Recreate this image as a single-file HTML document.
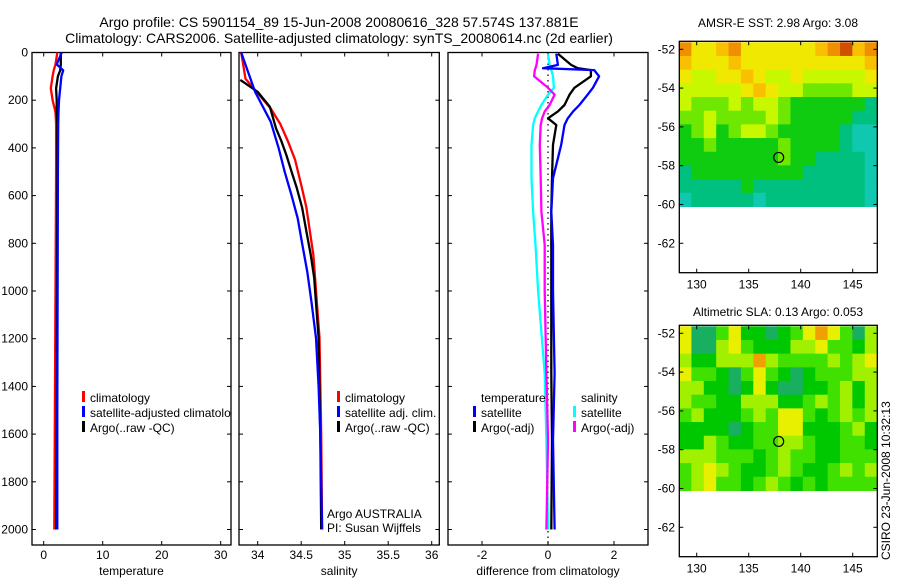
<!DOCTYPE html>
<html><head><meta charset="utf-8"><style>
body{margin:0;background:#fff;}
svg{display:block;font-family:"Liberation Sans",sans-serif;}
text{fill:#000;}
</style></head><body>
<svg id="fig" width="900" height="580" viewBox="0 0 900 580">
<g font-size="14" text-anchor="middle">
<text x="339" y="27">Argo profile: CS 5901154_89 15-Jun-2008 20080616_328 57.574S 137.881E</text>
<text x="339" y="43">Climatology: CARS2006. Satellite-adjusted climatology: synTS_20080614.nc (2d earlier)</text>
</g>
<text x="778" y="27" font-size="12" text-anchor="middle">AMSR-E SST: 2.98 Argo: 3.08</text>
<text x="778" y="316" font-size="12" text-anchor="middle">Altimetric SLA: 0.13 Argo: 0.053</text>
<text transform="translate(890,560) rotate(-90)" font-size="12">CSIRO 23-Jun-2008 10:32:13</text>
<defs>
<clipPath id="c1"><rect x="32" y="52" width="199" height="493"/></clipPath>
<clipPath id="c2"><rect x="239" y="52" width="200" height="493"/></clipPath>
<clipPath id="c3"><rect x="448" y="52" width="200" height="493"/></clipPath>
</defs>
<g id="layer"></g>
</svg>
<script>
// depth levels (m) shared by profile series
const tDepth = [0, 50, 75, 100, 150, 200, 250, 300, 500, 1000, 1500, 2000];
const tClim = [2.3, 2.0, 1.7, 1.5, 1.2, 1.5, 2.0, 2.1, 2.1, 2.0, 1.9, 1.8];
const tSat  = [3.05, 2.2, 3.3, 3.0, 2.8, 2.6, 2.5, 2.45, 2.4, 2.35, 2.3, 2.3];
const tArgo = [2.9, 2.9, 2.8, 2.4, 2.1, 2.2, 2.2, 2.3, 2.3, 2.25, 2.2, 2.1];
const sDepthC = [0, 110, 235, 300, 375, 450, 555, 650, 750, 850, 945, 1050, 1197, 1600, 2000];
const sClim   = [33.81, 33.86, 34.15, 34.26, 34.35, 34.43, 34.5, 34.56, 34.6, 34.64, 34.66, 34.68, 34.71, 34.73, 34.74];
const sDepthA = [115, 165, 228, 318, 370, 430, 500, 570, 650, 750, 850, 945, 1050, 1197, 1600, 2000];
const sArgo   = [33.8, 34.0, 34.14, 34.21, 34.27, 34.33, 34.39, 34.45, 34.51, 34.56, 34.61, 34.65, 34.67, 34.7, 34.72, 34.73];
const sDepthS = [0, 165, 290, 400, 500, 600, 695, 800, 920, 1050, 1197, 1400, 1600, 2000];
const sSat    = [33.81, 33.97, 34.15, 34.24, 34.31, 34.39, 34.46, 34.51, 34.57, 34.62, 34.67, 34.7, 34.72, 34.74];
const dDepth = [5, 52, 66, 74, 100, 148, 177, 220, 247, 276, 304, 387, 527, 667, 807, 1000, 1345, 1625, 2000];
const dTSat  = [0.25, 0.3, -0.15, 1.4, 1.55, 1.36, 1.2, 0.95, 0.76, 0.6, 0.5, 0.4, 0.15, 0.1, 0.15, 0.15, 0.2, 0.15, 0.2];
const dTArgo = [0.3, 0.7, 0.9, 1.3, 1.3, 0.8, 0.65, 0.5, 0.3, 0.0, 0.25, 0.15, 0.12, 0.1, 0.1, 0.1, 0.1, 0.12, 0.1];
const dSArgo = [-0.3, -0.35, -0.38, -0.4, -0.42, 0.0, 0.2, 0.05, -0.1, -0.18, -0.22, -0.25, -0.22, -0.2, -0.1, -0.1, -0.05, 0.0, -0.05];
const dSSat  = [0.0, 0.05, 0.08, 0.1, 0.15, 0.18, 0.0, -0.2, -0.3, -0.4, -0.45, -0.5, -0.5, -0.45, -0.38, -0.3, -0.1, -0.05, 0.0];
const depthTicks = [0,200,400,600,800,1000,1200,1400,1600,1800,2000];
const tTicks = [0,10,20,30];
const sTicks = [34,34.5,35,35.5,36];
const dTicks = [-2,0,2];
const latTicks = [-52,-54,-56,-58,-60,-62];
const lonTicks = [130,135,140,145];
const argoLon = 137.881, argoLat = -57.574;
const sstGrid = [
"7556755555567867","6555655555555556","5445565445444445","4444456544333344",
"4333434432222221","3343333432222211","2342344322222100","2232222232222100",
"2222222232211110","1222222222111110","1111121111111110","0111110111111110"];
const slaGrid = [
"5113522123565314","5114532224453324","4224446433334345","5332135321233344",
"4422125211223424","4332244422343424","3422234355323434","2222123355222342",
"2243223344322332","4443332343322333","3454322343223434","3453323432323333"];
const sstColors = ["#10c8b0","#00c080","#10cc10","#6ee800","#c8f800","#f0e800","#f8c000","#f09000","#d05000"];
const slaColors = ["#10a878","#18b060","#00c800","#40e000","#a0f000","#e8f000","#f0a000"];

const NS="http://www.w3.org/2000/svg";
const layer=document.getElementById('layer');
function el(t,a,p){const e=document.createElementNS(NS,t);for(const k in a)e.setAttribute(k,a[k]);(p||layer).appendChild(e);return e;}
const yD = d => 52.5 + d*0.2385;
const xT = v => 43.7 + v*5.9;
const xS = v => 257.7 + (v-34)*87;
const xDf = v => 548 + v*33;

function panel(x0,x1,name,xf,ticks,lab,xlabel,showY){
  const g=el('g',{});
  
  
  el('rect',{x:x0,y:52.5,width:x1-x0,height:492.5,fill:'none',stroke:'#000','stroke-width':1.3},g);
  depthTicks.forEach(d=>{const y=yD(d);
    el('line',{x1:x0,x2:x0+4,y1:y,y2:y,stroke:'#000'},g);
    el('line',{x1:x1-4,x2:x1,y1:y,y2:y,stroke:'#000'},g);
    if(showY){const t=el('text',{x:x0-4,y:y+4,'font-size':12,'text-anchor':'end'},g);t.textContent=d;
      
      }
  });
  ticks.forEach(v=>{const x=xf(v);
    el('line',{x1:x,x2:x,y1:545,y2:541,stroke:'#000'},g);
    el('line',{x1:x,x2:x,y1:52.5,y2:56.5,stroke:'#000'},g);
    const t=el('text',{x:x,y:559,'font-size':12,'text-anchor':'middle'},g);t.textContent=lab(v);
    
    
  });
  const xl=el('text',{x:(x0+x1)/2,y:575,'font-size':12,'text-anchor':'middle'},g);xl.textContent=xlabel;
  
  
  return g;
}
function line(g,clip,xs,ds,xf,col,name){
  const pts=xs.map((v,i)=>xf(v).toFixed(1)+','+yD(ds[i]).toFixed(1)).join(' ');
  const p=el('polyline',{points:pts,fill:'none',stroke:col,'stroke-width':2.3,'stroke-linejoin':'round','clip-path':'url(#'+clip+')'},g);
  
  
}
function legend(g,x,y,col,txt,clip){
  if(col){const m=el('rect',{x:x,y:y-11,width:3,height:11,fill:col},g);
    
    }
  const t=el('text',{x:x+8,y:y,'font-size':12},g);t.textContent=txt;
  if(clip)t.setAttribute('clip-path','url(#'+clip+')');
  
  
}
// panel 1
const g1=panel(32,231,'temperature-panel',xT,tTicks,v=>v,'temperature',true);
line(g1,'c1',tClim,tDepth,xT,'#f00','temp-climatology-line');
line(g1,'c1',tArgo,tDepth,xT,'#000','temp-argo-line');
line(g1,'c1',tSat,tDepth,xT,'#00f','temp-satellite-line');
legend(g1,82,402,'#f00','climatology');
legend(g1,82,417,'#00f','satellite-adjusted climatology','c1');
legend(g1,82,432,'#000','Argo(..raw -QC)');
// panel 2
const g2=panel(239,439.3,'salinity-panel',xS,sTicks,v=>v,'salinity',false);
line(g2,'c2',sClim,sDepthC,xS,'#f00','sal-climatology-line');
line(g2,'c2',sArgo,sDepthA,xS,'#000','sal-argo-line');
line(g2,'c2',sSat,sDepthS,xS,'#00f','sal-satellite-line');
legend(g2,337,402,'#f00','climatology');
legend(g2,337,417,'#00f','satellite adj. clim.');
legend(g2,337,432,'#000','Argo(..raw -QC)');
legend(g2,319,518,null,'Argo AUSTRALIA');
legend(g2,319,532,null,'PI: Susan Wijffels');
// panel 3
const g3=panel(448,648,'difference-panel',xDf,dTicks,v=>v,'difference from climatology',false);
const z=el('line',{x1:xDf(0),x2:xDf(0),y1:52.5,y2:545,stroke:'#000','stroke-dasharray':'1.5,4','stroke-width':1.2},g3);


line(g3,'c3',dSSat,dDepth,xDf,'#0ff','sal-diff-satellite-line');
line(g3,'c3',dSArgo,dDepth,xDf,'#f0f','sal-diff-argo-line');
line(g3,'c3',dTArgo,dDepth,xDf,'#000','temp-diff-argo-line');
line(g3,'c3',dTSat,dDepth,xDf,'#00f','temp-diff-satellite-line');
legend(g3,473,402,null,'temperature');
legend(g3,473,417,'#00f','satellite');
legend(g3,473,432,'#000','Argo(-adj)');
legend(g3,573,402,null,'salinity');
legend(g3,573,417,'#0ff','satellite');
legend(g3,573,432,'#f0f','Argo(-adj)');
// maps
const lonX = v => 696.7 + (v-130)*10.4;
function map(top,grid,colors,name){
  const g=el('g',{});
  
  
  const ly = v => top + 1 + (-51.64 - v)*19.4;
  const lonMin=128.3, lonMax=147.35, latMax=-51.64, latMin=-60.1;
  const rows=grid.length, cols=grid[0].length;
  const cw=(lonMax-lonMin)/cols, ch=(latMax-latMin)/rows;
  grid.forEach((r,i)=>{for(let j=0;j<cols;j++){
    const x=lonX(lonMin+j*cw), y=ly(latMax-i*ch);
    const c=el('rect',{x:x,y:y,width:cw*10.4+0.6,height:ch*19.4+0.6,fill:colors[+r[j]]},g);
    
    
  }});
  el('rect',{x:679.3,y:top,width:198,height:231.4,fill:'none',stroke:'#000','stroke-width':1.3},g);
  latTicks.forEach(v=>{const y=ly(v);
    el('line',{x1:679.3,x2:683.3,y1:y,y2:y,stroke:'#000'},g);
    el('line',{x1:873.3,x2:877.3,y1:y,y2:y,stroke:'#000'},g);
    const t=el('text',{x:675,y:y+4,'font-size':12,'text-anchor':'end'},g);t.textContent=v;
    
    
  });
  lonTicks.forEach(v=>{const x=lonX(v);
    el('line',{x1:x,x2:x,y1:top,y2:top+4,stroke:'#000'},g);
    el('line',{x1:x,x2:x,y1:top+231.4,y2:top+227.4,stroke:'#000'},g);
    const t=el('text',{x:x,y:top+247,'font-size':12,'text-anchor':'middle'},g);t.textContent=v;
    
    
  });
  const m=el('circle',{cx:lonX(argoLon),cy:ly(argoLat),r:5,fill:'none',stroke:'#000','stroke-width':1.2},g);
  
  
}
map(41.3,sstGrid,sstColors,'sst-map');
map(325.3,slaGrid,slaColors,'sla-map');
</script>
</body></html>
